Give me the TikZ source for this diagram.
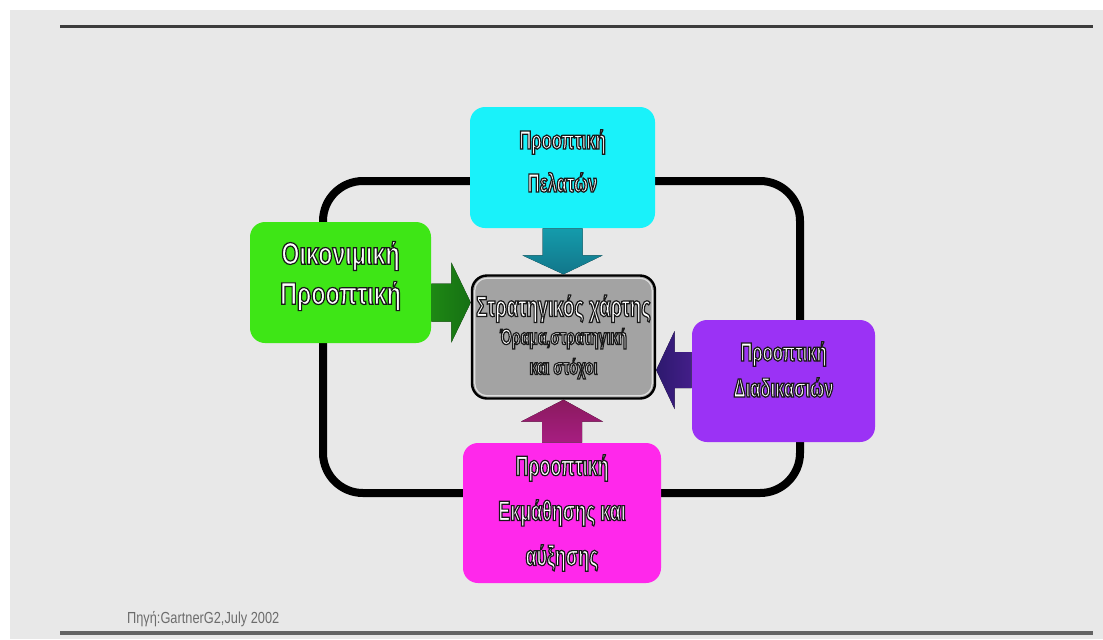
\documentclass[tikz,border=0pt]{standalone}
\usepackage{fontspec}
\usepackage{xcolor}
\usepackage{tikz}
\usetikzlibrary{calc, positioning}
\newfontfamily\boxfont[FakeStretch=0.64]{Liberation Sans Bold}
\newfontfamily\wideboxfont[FakeStretch=0.75]{Liberation Sans Bold}
\newfontfamily\notefont[FakeStretch=0.8]{Liberation Sans}
\definecolor{PageGray}{RGB}{232,232,232}
\definecolor{RuleGray}{RGB}{60,60,60}
\definecolor{CustCyan}{RGB}{25,242,250}
\definecolor{FinGreen}{RGB}{62,230,22}
\definecolor{ProcPurple}{RGB}{155,50,245}
\definecolor{LearnMagenta}{RGB}{255,40,235}
\definecolor{MapGray}{RGB}{163,163,163}
\definecolor{ArrTeal}{RGB}{18,118,138}
\definecolor{ArrGreen}{RGB}{22,112,20}
\definecolor{ArrIndigo}{RGB}{45,25,110}
\definecolor{ArrMaroon}{RGB}{138,26,94}
% white letters with a dark rim (fill + stroke)
\newcommand{\glowtxt}[1]{{\color{white}%
  \special{pdf:literal direct 2 Tr 0.1 0.1 0.1 RG 0.6 w}#1%
  \special{pdf:literal direct 0 Tr}}}
\tikzset{
    boxnode/.style={
        rounded corners=7.5pt, inner sep=0pt, anchor=center
    },
    boxtext/.style={
        align=center, inner sep=0pt, anchor=center
    },
    loopline/.style={
        line width=4pt, rounded corners=20pt, black
    },
    ruleline/.style={
        RuleGray, line width=1.5pt
    }
}

\begin{document}
\begin{tikzpicture}[
            x=0.5pt, y=-0.5pt,
            % Style cho cac khung mau
            custbox/.style={boxnode, fill=CustCyan, minimum width=92.5pt, minimum height=60.5pt},
            finbox/.style={boxnode, fill=FinGreen, minimum width=90.5pt, minimum height=60.5pt},
            procbox/.style={boxnode, fill=ProcPurple, minimum width=91.5pt, minimum height=61pt},
            learnbox/.style={boxnode, fill=LearnMagenta, minimum width=99pt, minimum height=70pt},
            % Style cho khung trung tam
            mapbox/.style={boxnode, fill=MapGray, draw=black, line width=1.2pt,
                minimum width=91.5pt, minimum height=61.5pt},
            % Style mui ten khoi
            blockarr/.style={draw=none}
        ]

            % --- 1. NEN VA DUONG KE ---
            \useasboundingbox (0,0) rectangle (1103,639);
            \fill[PageGray] (10,10) rectangle (1103,639);
            \draw[ruleline] (60,26) -- (1093,26);
            \draw[ruleline, RuleGray!80, line width=2pt] (60,633) -- (1093,633);

            % --- 2. VONG KHEP KIN ---
            \draw[loopline] (323,181) rectangle (800,493);

            % --- 3. CAC KHUNG ---
            \node[mapbox] (map) at (563.5,337) {};
            \draw[white!75!gray, line width=0.6pt, rounded corners=6pt]
                ($(map.north west)+(4,4)$) rectangle ($(map.south east)+(-4,-4)$);
            \node[boxtext, font=\boxfont\fontsize{14.5}{15}\selectfont] (maptxt) at (map) {%
                \glowtxt{Στρατηγικός χάρτης}\\[-1pt]
                {\fontsize{11}{14}\selectfont\glowtxt{Όραμα,στρατηγική}}\\
                {\fontsize{11}{14}\selectfont\glowtxt{και στόχοι}}};

            \node[custbox] (cust) at (562.5,167.5) {};
            \node[boxtext, font=\boxfont\fontsize{13}{21.5}\selectfont, yshift=3.25pt] (custtxt)
                at (cust) {\glowtxt{Προοπτική}\\\glowtxt{Πελατών}};

            \node[finbox] (fin) at (340.5,282.5) {};
            \node[boxtext, font=\wideboxfont\fontsize{15.5}{20}\selectfont, yshift=3.25pt] (fintxt)
                at (fin) {\glowtxt{Οικονιμική}\\\glowtxt{Προοπτική}};

            \node[procbox] (proc) at (783.5,381) {};
            \node[boxtext, font=\boxfont\fontsize{13}{18}\selectfont, yshift=5.75pt] (proctxt)
                at (proc) {\glowtxt{Προοπτική}\\\glowtxt{Διαδικασιών}};

            \node[learnbox] (learn) at (562,513) {};
            \node[boxtext, font=\boxfont\fontsize{14}{22.5}\selectfont] (learntxt)
                at (learn) {\glowtxt{Προοπτική}\\\glowtxt{Εκμάθησης και}\\\glowtxt{αύξησης}};

            % --- 4. MUI TEN KHOI ---
            % Pelaton -> trung tam
            \fill[blockarr, top color=ArrTeal!70!CustCyan, bottom color=ArrTeal]
                ($(cust.south)+(-20,0)$) -- ($(cust.south)+(20,0)$) -- ($(cust.south)+(20,27)$)
                -- ($(cust.south)+(40,27)$) -- (map.north) -- ($(cust.south)+(-40,27)$)
                -- ($(cust.south)+(-20,27)$) -- cycle;
            % Oikonomiki -> trung tam
            \coordinate (fa) at ([yshift=-10pt]fin.east);
            \fill[blockarr, left color=ArrGreen!80!FinGreen, right color=ArrGreen]
                ($(fa)+(0,-19)$) -- ($(fa)+(20,-19)$) -- ($(fa)+(20,-40)$)
                -- (map.west |- fa) -- ($(fa)+(20,40)$) -- ($(fa)+(20,19)$)
                -- ($(fa)+(0,19)$) -- cycle;
            % Diadikasion -> trung tam
            \coordinate (pa) at ([yshift=5.5pt]proc.west);
            \fill[blockarr, right color=ArrIndigo!80!ProcPurple, left color=ArrIndigo]
                ($(pa)+(0,-18)$) -- ($(pa)+(-17,-18)$) -- ($(pa)+(-17,-39)$)
                -- (map.east |- pa) -- ($(pa)+(-17,39)$) -- ($(pa)+(-17,18)$)
                -- ($(pa)+(0,18)$) -- cycle;
            % Ekmathisis -> trung tam
            \fill[blockarr, bottom color=ArrMaroon!75!LearnMagenta, top color=ArrMaroon]
                ($(learn.north)+(-20,0)$) -- ($(learn.north)+(20,0)$) -- ($(learn.north)+(20,-21)$)
                -- ($(learn.north)+(41,-21)$) -- (map.south) -- ($(learn.north)+(-41,-21)$)
                -- ($(learn.north)+(-20,-21)$) -- cycle;

            % --- 5. NGUON ---
            \node[anchor=west, font=\notefont\fontsize{8}{9}\selectfont, text=gray!85!black] (source)
                at (120,619) {Πηγή:GartnerG2,July 2002};

        \end{tikzpicture}
\end{document}
